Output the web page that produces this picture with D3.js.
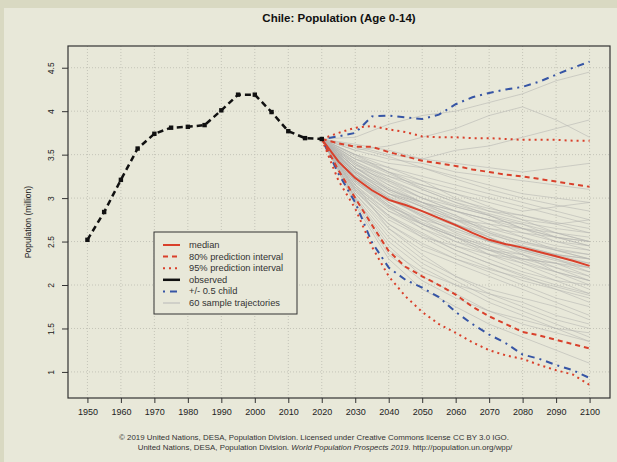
<!DOCTYPE html>
<meta charset="utf-8">
<style>
body { margin: 0; background: #d9d9c2; }
svg { display: block; }
.axis text { font: 9px "Liberation Sans", Arial, sans-serif; fill: #222; }
.axis path, .axis line { stroke: #333; }
.grid line { stroke: #c4c4b8; stroke-dasharray: 1,2; }
.legend text { font: 9.3px "Liberation Sans", Arial, sans-serif; fill: #333; }
.foot { font: 7.9px "Liberation Sans", Arial, sans-serif; fill: #333; }
</style>
<body>
<svg width="617" height="462"></svg>
<script src="https://d3js.org/d3.v7.min.js"></script>
<script>

// observed, every 5 years 1950-2020
var obsYears = [1950,1955,1960,1965,1970,1975,1980,1985,1990,1995,2000,2005,2010,2015,2020];
var observed = [2.52,2.84,3.21,3.57,3.74,3.81,3.82,3.84,4.01,4.19,4.19,3.99,3.77,3.69,3.68];

// projections, every 5 years 2020-2100
var projYears = [2020,2025,2030,2035,2040,2045,2050,2055,2060,2065,2070,2075,2080,2085,2090,2095,2100];
var median   = [3.68,3.42,3.23,3.09,2.98,2.92,2.85,2.77,2.69,2.60,2.52,2.47,2.43,2.38,2.33,2.28,2.22];
var upper80  = [3.68,3.63,3.59,3.59,3.53,3.48,3.43,3.40,3.37,3.33,3.30,3.27,3.25,3.22,3.19,3.16,3.13];
var lower80  = [3.68,3.32,3.00,2.69,2.39,2.21,2.10,2.00,1.89,1.75,1.64,1.55,1.46,1.42,1.37,1.32,1.27];
var upper95  = [3.68,3.75,3.81,3.83,3.79,3.76,3.71,3.70,3.70,3.69,3.69,3.68,3.67,3.67,3.67,3.66,3.66];
var lower95  = [3.68,3.20,2.88,2.44,2.10,1.87,1.69,1.55,1.45,1.34,1.25,1.19,1.15,1.08,1.02,0.97,0.85];
var upperChild = [3.68,3.71,3.75,3.94,3.95,3.93,3.91,3.96,4.08,4.16,4.21,4.25,4.28,4.34,4.42,4.50,4.57];
var lowerChild = [3.68,3.28,2.95,2.49,2.20,2.06,1.97,1.86,1.69,1.55,1.43,1.33,1.20,1.15,1.08,1.02,0.93];

// 60 sample trajectories, every 10 years 2020-2100
var sampleYears = [2020,2030,2040,2050,2060,2070,2080,2090,2100];
var samples = [
  [3.68,3.30,3.05,2.90,2.70,2.55,2.40,2.30,2.20],
  [3.68,3.45,3.35,3.20,3.00,2.85,2.80,2.70,2.60],
  [3.68,3.15,2.80,2.55,2.35,2.20,2.05,1.95,1.85],
  [3.68,3.60,3.50,3.45,3.55,3.60,3.70,3.80,3.90],
  [3.68,3.70,3.85,3.95,4.00,4.10,4.20,4.35,4.45],
  [3.68,3.20,2.90,2.75,2.65,2.50,2.45,2.35,2.30],
  [3.68,3.05,2.60,2.30,2.10,1.90,1.75,1.60,1.50],
  [3.68,3.35,3.20,3.05,2.90,2.80,2.65,2.50,2.45],
  [3.68,3.25,3.00,2.85,2.75,2.70,2.65,2.60,2.55],
  [3.68,3.40,3.15,2.95,2.75,2.55,2.35,2.15,2.00],
  [3.68,3.10,2.70,2.45,2.30,2.15,2.00,1.85,1.75],
  [3.68,3.50,3.40,3.35,3.25,3.15,3.05,3.00,2.95],
  [3.68,3.28,2.95,2.70,2.50,2.40,2.35,2.25,2.10],
  [3.68,3.00,2.45,2.10,1.90,1.70,1.55,1.45,1.35],
  [3.68,3.35,3.10,2.95,2.85,2.70,2.55,2.40,2.30],
  [3.68,3.55,3.60,3.70,3.80,3.95,4.05,3.90,3.70],
  [3.68,3.22,2.98,2.80,2.60,2.45,2.30,2.20,2.10],
  [3.68,3.38,3.25,3.10,2.95,2.85,2.75,2.70,2.75],
  [3.68,3.12,2.85,2.70,2.55,2.35,2.20,2.05,1.90],
  [3.68,3.45,3.30,3.15,3.05,2.95,2.85,2.90,2.95],
  [3.68,2.95,2.35,2.05,1.85,1.70,1.60,1.50,1.45],
  [3.68,3.30,3.10,2.95,2.80,2.65,2.55,2.45,2.40],
  [3.68,3.18,2.90,2.65,2.45,2.30,2.15,2.05,2.00],
  [3.68,3.50,3.35,3.25,3.15,3.05,2.95,2.85,2.75],
  [3.68,3.25,3.05,2.95,2.80,2.60,2.50,2.40,2.30],
  [3.68,3.08,2.75,2.55,2.45,2.35,2.30,2.25,2.20],
  [3.68,3.40,3.20,3.00,2.85,2.75,2.60,2.50,2.40],
  [3.68,3.15,2.65,2.35,2.10,1.95,1.85,1.75,1.60],
  [3.68,3.32,3.08,2.90,2.75,2.60,2.45,2.35,2.25],
  [3.68,3.55,3.45,3.40,3.30,3.25,3.20,3.15,3.10],
  [3.68,3.20,2.95,2.75,2.55,2.40,2.25,2.15,2.05],
  [3.68,3.35,3.15,3.00,2.85,2.75,2.70,2.60,2.50],
  [3.68,3.02,2.55,2.25,2.05,1.85,1.70,1.55,1.40],
  [3.68,3.28,3.02,2.85,2.70,2.55,2.40,2.30,2.15],
  [3.68,3.42,3.25,3.15,3.05,2.90,2.75,2.60,2.50],
  [3.68,3.15,2.85,2.65,2.50,2.35,2.25,2.10,1.95],
  [3.68,3.62,3.55,3.45,3.40,3.35,3.30,3.35,3.40],
  [3.68,3.25,3.00,2.80,2.65,2.50,2.40,2.35,2.30],
  [3.68,3.10,2.80,2.60,2.40,2.25,2.10,1.95,1.80],
  [3.68,3.38,3.18,3.00,2.90,2.80,2.70,2.55,2.45],
  [3.68,2.98,2.40,2.15,2.00,1.90,1.80,1.65,1.55],
  [3.68,3.30,3.05,2.90,2.75,2.65,2.60,2.55,2.50],
  [3.68,3.48,3.30,3.10,2.95,2.80,2.65,2.55,2.50],
  [3.68,3.22,2.92,2.70,2.55,2.45,2.35,2.20,2.05],
  [3.68,3.05,2.65,2.40,2.25,2.10,1.95,1.80,1.65],
  [3.68,3.35,3.12,2.95,2.85,2.75,2.65,2.55,2.45],
  [3.68,3.18,2.88,2.70,2.55,2.40,2.30,2.25,2.15],
  [3.68,3.50,3.30,3.20,3.10,3.00,2.90,2.80,2.70],
  [3.68,3.28,3.00,2.78,2.62,2.50,2.38,2.28,2.20],
  [3.68,3.12,2.78,2.58,2.40,2.25,2.12,2.00,1.90],
  [3.68,3.42,3.22,3.05,2.92,2.82,2.72,2.65,2.60],
  [3.68,3.00,2.50,2.20,2.00,1.80,1.65,1.50,1.35],
  [3.68,3.32,3.05,2.85,2.70,2.58,2.48,2.40,2.35],
  [3.68,3.58,3.48,3.35,3.22,3.10,3.00,2.92,2.85],
  [3.68,3.20,2.92,2.72,2.58,2.42,2.28,2.15,2.05],
  [3.68,3.35,3.10,2.92,2.78,2.62,2.50,2.42,2.35],
  [3.68,3.08,2.70,2.48,2.30,2.18,2.08,1.98,1.88],
  [3.68,3.45,3.28,3.12,2.98,2.88,2.80,2.72,2.65],
  [3.68,3.25,2.98,2.82,2.68,2.52,2.42,2.32,2.25],
  [3.68,2.92,2.30,1.95,1.75,1.55,1.40,1.25,1.10]
];

var xTicks = d3.range(1950, 2101, 10);
var yTicks = [1, 1.5, 2, 2.5, 3, 3.5, 4, 4.5];
var yTickLabels = ["1", "1.5", "2", "2.5", "3", "3.5", "4", "4.5"];

var legendItems = [
  {label: "median", color: "#d9402b", dash: null, width: 2},
  {label: "80% prediction interval", color: "#d9402b", dash: "5,4", width: 2},
  {label: "95% prediction interval", color: "#d9402b", dash: "2,4", width: 2},
  {label: "observed", color: "#111", dash: null, width: 2.5},
  {label: "+/- 0.5 child", color: "#3655a5", dash: "2,5,7,5", width: 2},
  {label: "60 sample trajectories", color: "#b8b8b8", dash: null, width: 1}
];

var svg = d3.select("svg");

// inner panel
svg.append("rect")
    .attr("x", 4).attr("y", 8)
    .attr("width", 613).attr("height", 454)
    .attr("fill", "#e8e8d9");

var pLeft = 68, pRight = 610, pTop = 46, pBottom = 398;

var x = d3.scaleLinear().domain([1944.2, 2106.1]).range([pLeft, pRight]);
var y = d3.scaleLinear().domain([0.70, 4.75]).range([pBottom, pTop]);

// grid
var grid = svg.append("g").attr("class", "grid");
grid.selectAll(".vg").data(xTicks).enter().append("line")
    .attr("x1", function(d) { return x(d); }).attr("x2", function(d) { return x(d); })
    .attr("y1", pTop).attr("y2", pBottom);
grid.selectAll(".hg").data(yTicks).enter().append("line")
    .attr("x1", pLeft).attr("x2", pRight)
    .attr("y1", function(d) { return y(d); }).attr("y2", function(d) { return y(d); });

// axes
var xAxis = svg.append("g")
    .attr("class", "axis")
    .attr("transform", "translate(0," + pBottom + ")")
    .call(d3.axisBottom(x).tickValues(xTicks).tickFormat(d3.format("d")).tickSize(5).tickPadding(6));
xAxis.select(".domain").remove();

var yAxis = svg.append("g")
    .attr("class", "axis")
    .attr("transform", "translate(" + pLeft + ",0)")
    .call(d3.axisLeft(y).tickValues(yTicks).tickFormat(function(d, i) { return yTickLabels[i]; }).tickSize(6));
yAxis.select(".domain").remove();
// R style: labels turned to read upwards
yAxis.selectAll(".tick text")
    .attr("text-anchor", "middle")
    .attr("x", null).attr("dy", "0.32em")
    .style("font-size", "8.5px")
    .attr("transform", "translate(-17,0) rotate(-90)");

svg.append("text")
    .attr("transform", "translate(31," + ((pTop + pBottom) / 2) + ") rotate(-90)")
    .attr("text-anchor", "middle")
    .style("font", "8.5px 'Liberation Sans', Arial, sans-serif")
    .attr("fill", "#222")
    .text("Population (million)");

// title
svg.append("text")
    .attr("x", (pLeft + pRight) / 2).attr("y", 22)
    .attr("text-anchor", "middle")
    .style("font", "bold 11.5px 'Liberation Sans', Arial, sans-serif")
    .attr("fill", "#111")
    .text("Chile: Population (Age 0-14)");

var line = d3.line()
    .x(function(d) { return x(d[0]); })
    .y(function(d) { return y(d[1]); });

function pairs(years, vals) {
  return years.map(function(yr, i) { return [yr, vals[i]]; });
}

var plot = svg.append("g");

// samples
plot.selectAll(".sample")
    .data(samples)
  .enter().append("path")
    .attr("class", "sample")
    .attr("d", function(d) { return line(pairs(sampleYears, d)); })
    .attr("fill", "none")
    .attr("stroke", "#b4b4b0")
    .attr("stroke-opacity", 0.7)
    .attr("stroke-width", 0.8);

var series = [
  {vals: upperChild, st: legendItems[4]},
  {vals: lowerChild, st: legendItems[4]},
  {vals: upper95, st: legendItems[2]},
  {vals: lower95, st: legendItems[2]},
  {vals: upper80, st: legendItems[1]},
  {vals: lower80, st: legendItems[1]},
  {vals: median, st: legendItems[0]}
];

plot.selectAll(".proj")
    .data(series)
  .enter().append("path")
    .attr("class", "proj")
    .attr("d", function(d) { return line(pairs(projYears, d.vals)); })
    .attr("fill", "none")
    .attr("stroke", function(d) { return d.st.color; })
    .attr("stroke-width", function(d) { return d.st.width; })
    .attr("stroke-dasharray", function(d) { return d.st.dash; });

// observed
plot.append("path")
    .attr("d", line(pairs(obsYears, observed)))
    .attr("fill", "none")
    .attr("stroke", "#111")
    .attr("stroke-width", 2.5)
    .attr("stroke-dasharray", "6,4");

plot.selectAll(".obs")
    .data(pairs(obsYears, observed))
  .enter().append("rect")
    .attr("x", function(d) { return x(d[0]) - 2.2; })
    .attr("y", function(d) { return y(d[1]) - 2.2; })
    .attr("width", 4.4).attr("height", 4.4)
    .attr("fill", "#111");

// plot box
svg.append("rect")
    .attr("x", pLeft).attr("y", pTop)
    .attr("width", pRight - pLeft).attr("height", pBottom - pTop)
    .attr("fill", "none")
    .attr("stroke", "#333")
    .attr("stroke-width", 1.2);

// legend
var lg = svg.append("g").attr("class", "legend");
lg.append("rect")
    .attr("x", 154).attr("y", 232)
    .attr("width", 143).attr("height", 82)
    .attr("fill", "#e8e8d9")
    .attr("stroke", "#333");

var rows = lg.selectAll(".row")
    .data(legendItems)
  .enter().append("g")
    .attr("transform", function(d, i) { return "translate(0," + (245 + i * 11.6) + ")"; });
rows.append("line")
    .attr("x1", 163).attr("x2", 180)
    .attr("stroke", function(d) { return d.color; })
    .attr("stroke-width", function(d) { return d.width; })
    .attr("stroke-dasharray", function(d) { return d.dash; });
rows.append("text")
    .attr("x", 189).attr("dy", "0.33em")
    .text(function(d) { return d.label; });

// footer
svg.append("text")
    .attr("class", "foot")
    .attr("x", 314).attr("y", 440)
    .attr("text-anchor", "middle")
    .text("\u00a9 2019 United Nations, DESA, Population Division. Licensed under Creative Commons license CC BY 3.0 IGO.");

var f2 = svg.append("text")
    .attr("class", "foot")
    .attr("x", 325).attr("y", 450)
    .attr("text-anchor", "middle");
f2.append("tspan").text("United Nations, DESA, Population Division. ");
f2.append("tspan").style("font-style", "italic").text("World Population Prospects 2019");
f2.append("tspan").text(". http://population.un.org/wpp/");

</script>
</body>
